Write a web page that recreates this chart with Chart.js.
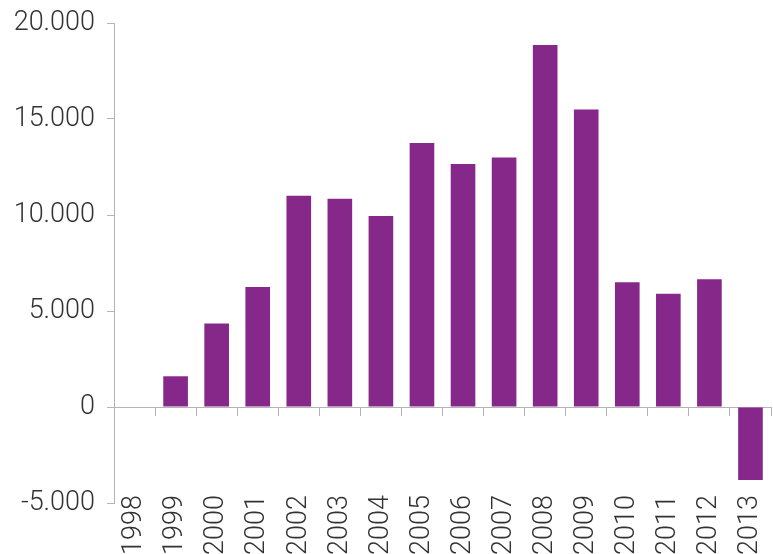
<!DOCTYPE html>
<html>
<head>
<meta charset="utf-8">
<script src="https://cdn.jsdelivr.net/npm/chart.js@4/dist/chart.umd.min.js"></script>
<style>
  html, body { margin: 0; padding: 0; background: #fff; }
  #wrap { width: 773px; height: 554px; }
</style>
</head>
<body>
<div id="wrap"><canvas id="chart"></canvas></div>
<script>
const years = ['1998', '1999', '2000', '2001', '2002', '2003', '2004', '2005',
  '2006', '2007', '2008', '2009', '2010', '2011', '2012', '2013']
const values = [null, 1600, 4350, 6250, 11000, 10850, 9950, 13750,
  12650, 13000, 18850, 15500, 6500, 5900, 6650, -3800]
const yTicks = [-5000, 0, 5000, 10000, 15000, 20000]

const axisGrey = '#b4b4b4'
const font = { family: 'Roboto', weight: 300, size: 27 }

// 20000 -> "20.000"
const fmt = v => String(v).replace(/\B(?=(\d{3})+(?!\d))/g, '.')

// year labels start a little above the bottom of the plot, as in the original
const liftYears = {
  id: 'liftYears',
  afterLayout(chart) { chart.scales.x.top -= 8 }
}

new Chart(document.getElementById('chart'), {
  type: 'bar',
  data: {
    labels: years,
    datasets: [{
      data: values,
      backgroundColor: '#862889',
      barPercentage: 0.6,
      categoryPercentage: 1
    }]
  },
  options: {
    responsive: true,
    maintainAspectRatio: false,
    animation: false,
    layout: { padding: { top: 23, right: 2, bottom: 0, left: 0 } },
    plugins: { legend: { display: false }, tooltip: { enabled: false } },
    scales: {
      x: {
        offset: true,
        grid: { display: false, drawTicks: false },
        border: { display: false },
        ticks: { color: '#333', font: font, minRotation: 90, maxRotation: 90, padding: 0 },
        afterFit: axis => {
          axis.height = 51
          axis.paddingLeft = 0
          axis.paddingRight = 0
        }
      },
      // zero line with the small tick marks between years
      x2: {
        type: 'category',
        position: { y: 0 },
        offset: true,
        z: 1,
        grid: { offset: true, drawOnChartArea: false, tickLength: 8, color: axisGrey },
        border: { color: axisGrey },
        ticks: { display: false }
      },
      y: {
        min: -5000,
        max: 20000,
        afterBuildTicks: axis => { axis.ticks = yTicks.map(v => ({ value: v })) },
        afterFit: axis => {
          axis.width = 114
          axis.paddingTop = 0
          axis.paddingBottom = 0
        },
        grid: { drawOnChartArea: false, tickLength: 7, color: axisGrey },
        border: { color: axisGrey },
        ticks: { color: '#333', font: font, padding: 12, callback: v => fmt(v) }
      }
    }
  },
  plugins: [liftYears]
})
</script>
</body>
</html>
